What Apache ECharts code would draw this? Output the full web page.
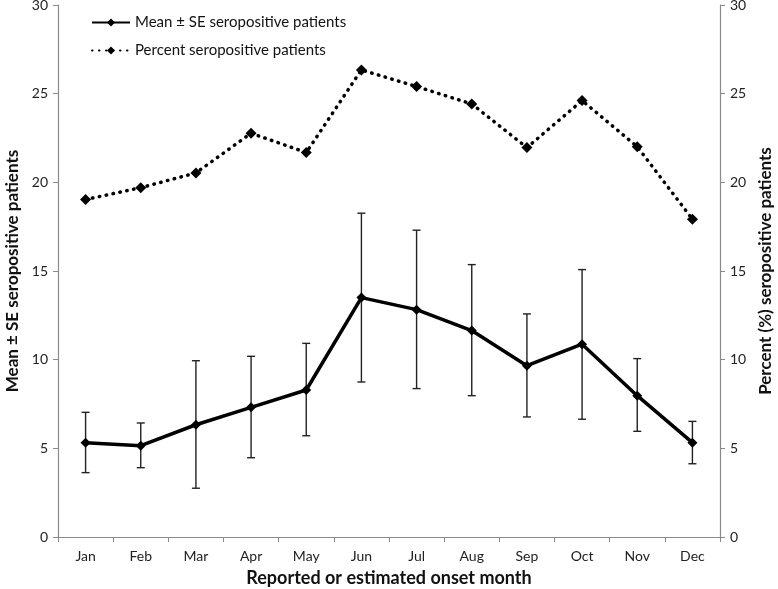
<!DOCTYPE html>
<html><head><meta charset="utf-8">
<script src="https://cdn.jsdelivr.net/npm/echarts@6/dist/echarts.min.js"></script>
<style>html,body{margin:0;padding:0;background:#fff}#c{width:778px;height:589px}</style>
</head><body><div id="c"></div>
<script>
const months = ['Jan','Feb','Mar','Apr','May','Jun','Jul','Aug','Sep','Oct','Nov','Dec'];
const meanVals = [5.32,5.15,6.33,7.31,8.29,13.5,12.82,11.64,9.66,10.87,7.97,5.32];
const seUpper = [7.03,6.43,9.94,10.19,10.92,18.26,17.3,15.36,12.58,15.08,10.06,6.52];
const seLower = [3.63,3.91,2.75,4.47,5.71,8.74,8.37,7.97,6.77,6.64,5.96,4.13];
const percentVals = [19.03,19.7,20.53,22.77,21.68,26.34,25.4,24.42,21.96,24.61,22.01,17.92];
const yTicks = [0,5,10,15,20,25,30];

const FONT = 'Lato';
const chart = echarts.init(document.getElementById('c'));
const errData = months.map((m,i)=>[i, seLower[i], seUpper[i]]);
const axisCommon = (name, pos, gap) => ({
  type:'value', min:yTicks[0], max:yTicks[yTicks.length-1], interval:yTicks[1]-yTicks[0], position:pos,
  name:name, nameLocation:'middle', nameGap:gap, nameRotate: 90,
  nameTextStyle:{fontFamily:FONT, fontSize:17, fontWeight:'bold', color:'#111'},
  axisLine:{show:true, lineStyle:{color:'#8a8a8a', width:1.2}},
  axisTick:{show:true, inside:false, length:5, lineStyle:{color:'#8a8a8a'}},
  axisLabel:{fontFamily:FONT, fontSize:14, color:'#222', margin:10},
  splitLine:{show:false}
});
chart.setOption({
  animation:false,
  textStyle:{fontFamily:FONT},
  grid:{left:58, right:58, top:5, bottom:52, containLabel:false, outerBoundsMode:'none'},
  legend:{
    orient:'vertical', left:86, top:10, itemGap:13, itemWidth:38, itemHeight:10,
    textStyle:{fontFamily:FONT, fontSize:15, color:'#111'},
    data:['Mean ± SE seropositive patients','Percent seropositive patients']
  },
  xAxis:{
    type:'category', data:months, boundaryGap:true,
    name:'Reported or estimated onset month', nameLocation:'middle', nameGap:32,
    nameTextStyle:{fontFamily:FONT, fontSize:18, fontWeight:'bold', color:'#111'},
    axisLine:{lineStyle:{color:'#8a8a8a', width:1.2}},
    axisTick:{show:true, length:5, alignWithLabel:false, lineStyle:{color:'#8a8a8a'}},
    axisLabel:{fontFamily:FONT, fontSize:14, color:'#222', margin:12}
  },
  yAxis:[
    axisCommon('Mean ± SE seropositive patients','left',37),
    axisCommon('Percent (%) seropositive patients','right',33)
  ],
  series:[
    {
      type:'custom', yAxisIndex:0, z:3, silent:true,
      data:errData,
      renderItem:(params, api)=>{
        const x = api.value(0);
        const lo = api.coord([x, api.value(1)]);
        const hi = api.coord([x, api.value(2)]);
        const hw = 4;
        const st = {stroke:'#222', lineWidth:1.4};
        return {type:'group', children:[
          {type:'line', shape:{x1:lo[0],y1:lo[1],x2:hi[0],y2:hi[1]}, style:st},
          {type:'line', shape:{x1:lo[0]-hw,y1:lo[1],x2:lo[0]+hw,y2:lo[1]}, style:st},
          {type:'line', shape:{x1:hi[0]-hw,y1:hi[1],x2:hi[0]+hw,y2:hi[1]}, style:st}
        ]};
      }
    },
    {
      name:'Mean ± SE seropositive patients', type:'line', yAxisIndex:0, z:4,
      data:meanVals, symbol:'diamond', symbolSize:10,
      lineStyle:{color:'#000', width:3.5},
      itemStyle:{color:'#000'}
    },
    {
      name:'Percent seropositive patients', type:'line', yAxisIndex:1, z:4,
      data:percentVals, symbol:'diamond', symbolSize:11,
      lineStyle:{color:'#000', width:3.5, type:[0.5,6.5], cap:'round'},
      itemStyle:{color:'#000'}
    }
  ]
});
</script></body></html>
